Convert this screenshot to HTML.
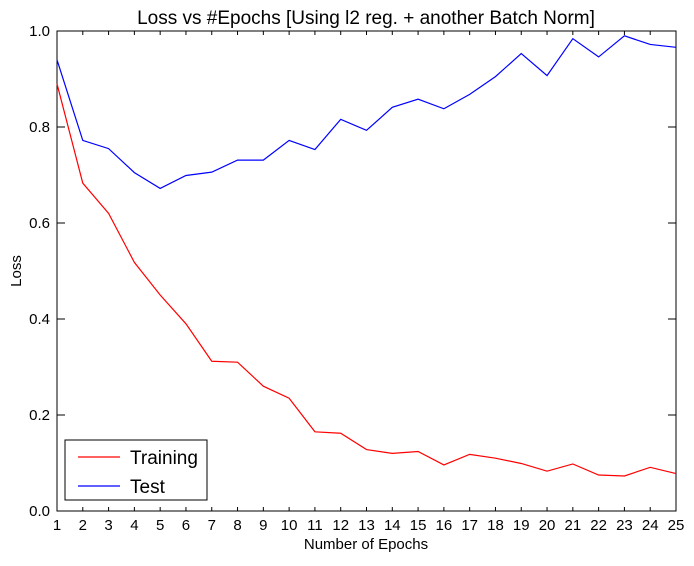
<!DOCTYPE html>
<html><head><meta charset="utf-8"><style>
body{margin:0;background:#fff;}
svg text{font-family:"Liberation Sans",sans-serif;}
</style></head><body>
<svg id="chart" width="694" height="561" xmlns="http://www.w3.org/2000/svg"></svg>
<script>
const epochs=[1,2,3,4,5,6,7,8,9,10,11,12,13,14,15,16,17,18,19,20,21,22,23,24,25];
const training=[0.89,0.683,0.62,0.518,0.45,0.39,0.312,0.31,0.26,0.235,0.165,0.162,0.128,0.12,0.124,0.096,0.118,0.11,0.099,0.083,0.098,0.075,0.073,0.091,0.078];
const test=[0.94,0.772,0.755,0.705,0.672,0.699,0.706,0.731,0.731,0.772,0.753,0.816,0.793,0.841,0.858,0.838,0.868,0.905,0.953,0.907,0.984,0.946,0.99,0.972,0.966];
const yTicks=[0,0.2,0.4,0.6,0.8,1.0];
const yTickLabels=["0.0","0.2","0.4","0.6","0.8","1.0"];
const NS="http://www.w3.org/2000/svg";
const svg=document.getElementById('chart');
const L=57,R=676,T=31,B=511;
const x=v=>L+(v-1)/(24)*(R-L);
const y=v=>B-v*(B-T);
function mk(tag,at,parent){const e=document.createElementNS(NS,tag);for(const k in at)e.setAttribute(k,at[k]);(parent||svg).appendChild(e);return e;}
const frame=mk('rect',{x:L,y:T,width:R-L,height:B-T,fill:'none',stroke:'#000','stroke-width':1});


epochs.forEach(e=>{
 const t=mk('line',{x1:x(e),x2:x(e),y1:B,y2:B-4,stroke:'#000'});
 
 
 mk('line',{x1:x(e),x2:x(e),y1:T,y2:T+4,stroke:'#000'});
 const l=mk('text',{x:x(e),y:B+19,'text-anchor':'middle','font-size':15});
 l.textContent=e;
 
 
});
yTicks.forEach((v,i)=>{
 const t=mk('line',{x1:L,x2:L+8,y1:y(v),y2:y(v),stroke:'#000'});
 
 
 mk('line',{x1:R,x2:R-8,y1:y(v),y2:y(v),stroke:'#000'});
 const l=mk('text',{x:L-7,y:y(v)+5,'text-anchor':'end','font-size':15});
 l.textContent=yTickLabels[i];
 
 
});
function series(arr,color,name){
 const p=mk('polyline',{points:arr.map((v,i)=>x(epochs[i])+','+y(v)).join(' '),fill:'none',stroke:color,'stroke-width':1.2});
 
 
}
series(training,'#f00','training-line');
series(test,'#00f','test-line');
const title=mk('text',{x:366,y:24,'text-anchor':'middle','font-size':19});
title.textContent='Loss vs #Epochs [Using l2 reg. + another Batch Norm]';


const xt=mk('text',{x:366,y:549,'text-anchor':'middle','font-size':15});
xt.textContent='Number of Epochs';


const yt=mk('text',{x:21,y:271,'text-anchor':'middle','font-size':15,transform:'rotate(-90 21 271)'});
yt.textContent='Loss';


const lg=mk('g',{});


mk('rect',{x:65,y:440,width:142,height:60,fill:'#fff',stroke:'#000'},lg);
mk('line',{x1:78,x2:120,y1:457,y2:457,stroke:'#f00','stroke-width':1.2},lg);
mk('line',{x1:78,x2:120,y1:486,y2:486,stroke:'#00f','stroke-width':1.2},lg);
const t1=mk('text',{x:130,y:464,'font-size':19},lg);t1.textContent='Training';


const t2=mk('text',{x:130,y:493,'font-size':19},lg);t2.textContent='Test';


</script>
</body></html>
